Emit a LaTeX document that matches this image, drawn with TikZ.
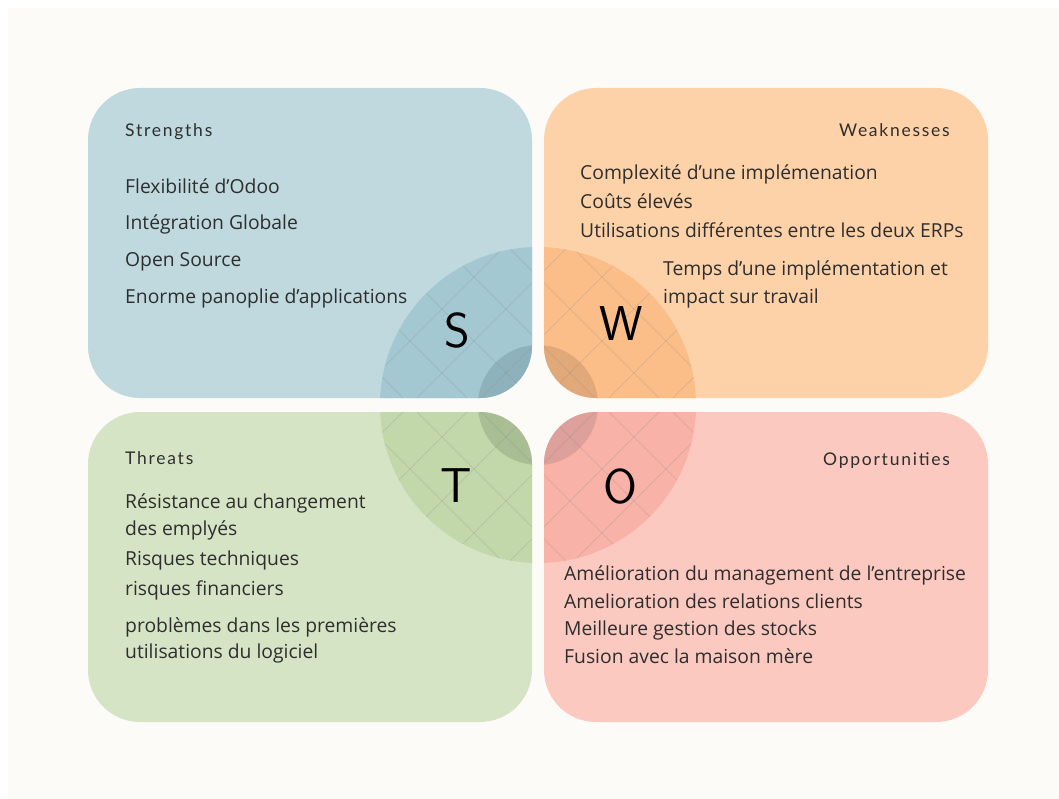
\documentclass[tikz,border=0pt]{standalone}
\usepackage{fontspec}
\setmainfont{Open Sans}
\newfontfamily\headfont[LetterSpace=10]{Lato}
\usetikzlibrary{positioning}

\definecolor{paper}{HTML}{FDFBF7}
\definecolor{textgray}{HTML}{2E2E2E}
\definecolor{sbox}{HTML}{BFD9DE}
\definecolor{sring}{HTML}{A3C8D1}
\definecolor{score}{HTML}{8EB2BB}
\definecolor{wbox}{HTML}{FDD2A9}
\definecolor{wring}{HTML}{FBBE88}
\definecolor{wcore}{HTML}{E1A87A}
\definecolor{tbox}{HTML}{D6E4C6}
\definecolor{tring}{HTML}{C3D8AA}
\definecolor{tcore}{HTML}{A9BE95}
\definecolor{obox}{HTML}{FBC9C0}
\definecolor{oring}{HTML}{F8B2A7}
\definecolor{ocore}{HTML}{DDA09A}

\tikzset{
  item/.style={anchor=base west, inner sep=0pt, text=textgray, font=\fontsize{19.3}{22}\selectfont},
  head/.style={inner sep=0pt, text=textgray, font=\headfont\fontsize{17.5}{20}\selectfont},
  letter/.style={anchor=base, inner sep=0pt, font=\sffamily\fontsize{49}{52}\selectfont},
  hatch/.style={line width=0.6pt, draw=black!45, opacity=0.35}
}

\begin{document}
\begin{tikzpicture}[x=1pt, y=-1pt]
	  \useasboundingbox (0,0) rectangle (1059,799);
	  \fill [white] (0,0) rectangle (1059,799);
	  \fill [paper] (8,8) rectangle (1059,799);

	  % quadrants, with the circle cut into each one
	  \foreach \xa/\ya/\xb/\yb/\boxcol/\ringcol/\corecol in {88/88/532/398/sbox/sring/score, 544/88/988/398/wbox/wring/wcore, 88/412/532/722/tbox/tring/tcore, 544/412/988/722/obox/oring/ocore}{
	    \fill [\boxcol, rounded corners=52pt] (\xa,\ya) rectangle (\xb,\yb);
	    \begin{scope}
	      \clip [rounded corners=52pt] (\xa,\ya) rectangle (\xb,\yb);
	      \fill [\ringcol] (538,405) circle (158pt);
	      \fill [\corecol] (538,405) circle (60pt);
	      \clip (538,405) circle (158pt);
	      \foreach \k in {-4,...,4}{
	        \draw [hatch] (538+64*\k-200,205)--(538+64*\k+200,605);
	        \draw [hatch] (538+64*\k-200,605)--(538+64*\k+200,205);
	      }
	    \end{scope}
	  }

	  \node [letter] (S) at (457,347) {S};
	  \node [letter] (W) at (621,340) {W};
	  \node [letter] (T) at (456,502) {T};
	  \node [letter] (O) at (620,503) {O};

	  \node [head, anchor=base west] (s-head) at (125,137) {Strengths};
	  \node [item] (s-1) at (125,194) {Flexibilité d’Odoo};
	  \node [item] (s-2) at (125,230) {Intégration Globale};
	  \node [item] (s-3) at (125,267) {Open Source};
	  \node [item] (s-4) at (125,304) {Enorme panoplie d’applications};

	  \node [head, anchor=base east] (w-head) at (950,137) {Weaknesses};
	  \node [item] (w-1) at (580,180) {Complexité d’une implémenation};
	  \node [item] (w-2) at (580,209) {Coûts élevés};
	  \node [item] (w-3) at (580,238) {Utilisations différentes entre les deux ERPs};
	  \node [item] (w-4) at (663,276) {Temps d’une implémentation et};
	  \node [item] (w-5) at (663,303) {impact sur travail};

	  \node [head, anchor=base west] (t-head) at (125,464) {Threats};
	  \node [item] (t-1) at (125,508) {Résistance au changement};
	  \node [item] (t-2) at (125,535) {des emplyés};
	  \node [item] (t-3) at (125,565) {Risques techniques};
	  \node [item] (t-4) at (125,595) {risques financiers};
	  \node [item] (t-5) at (125,632) {problèmes dans les premières};
	  \node [item] (t-6) at (125,658) {utilisations du logiciel};

	  \node [head, anchor=base east] (o-head) at (950,465) {Opportunities};
	  \node [item] (o-1) at (564,580) {Amélioration du management de l’entreprise};
	  \node [item] (o-2) at (564,608) {Amelioration des relations clients};
	  \node [item] (o-3) at (564,635) {Meilleure gestion des stocks};
	  \node [item] (o-4) at (564,663) {Fusion avec la maison mère};
\end{tikzpicture}
\end{document}
